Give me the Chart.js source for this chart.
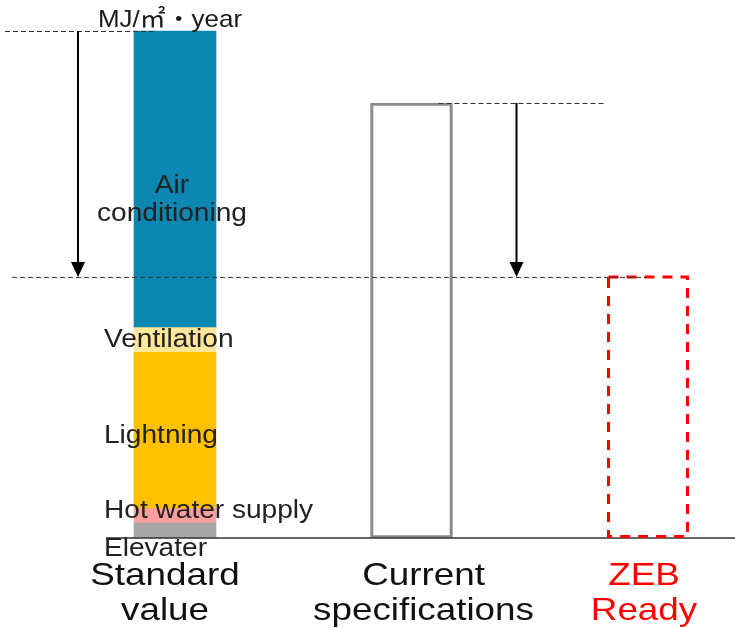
<!DOCTYPE html>
<html><head><meta charset="utf-8">
<script src="https://cdn.jsdelivr.net/npm/chart.js@4"></script>
<style>html,body{margin:0;padding:0;background:#fff}#wrap{width:735px;height:628px}</style>
</head><body><div id="wrap"><canvas id="c"></canvas></div>
<script>
// ---- data (MJ/㎡・year, standard value = 100) ----
const categories = ['Standard value', 'Current specifications', 'ZEB Ready'];
const categoryLines = [['Standard', 'value'], ['Current', 'specifications'], ['ZEB', 'Ready']];
const componentNames = ['Elevater', 'Hot water supply', 'Lightning', 'Ventilation', 'Air conditioning'];
const elevater = [3.0, null, null];
const hotWater = [2.8, null, null];
const lightning = [30.8, null, null];
const ventilation = [4.9, null, null];
const airConditioning = [58.5, null, null];
const currentSpec = [null, 85.8, null];
const zebReady = [null, null, 51.5];
const unitLabel = 'MJ/㎡・year';

// ---- styles ----
const FONT = '"Liberation Sans", "Noto Sans CJK JP", Arial, sans-serif';
const compColors = ['#A6A6A6', '#FF9E9E', '#FFC000', '#FFE699', '#0C87B1'];
const compSeries = [elevater, hotWater, lightning, ventilation, airConditioning];
const compLabelLayout = [
  {align: 'left', lines: ['Elevater'], dy: [26]},
  {align: 'left', lines: ['Hot water supply'], dy: [2]},
  {align: 'left', lines: ['Lightning'], dy: [12]},
  {align: 'left', lines: ['Ventilation'], dy: [6.5]},
  {align: 'center', lines: ['Air', 'conditioning'], dy: [13.5, 41.5]}
];

const datasets = compSeries.map((d, i) => ({
  label: componentNames[i], data: d, backgroundColor: compColors[i],
  borderWidth: 0, barThickness: 82, clip: false, stack: 's'
}));
datasets.push({label: categories[1], data: currentSpec, backgroundColor: 'rgba(0,0,0,0)',
  borderColor: '#8c8c8c', borderWidth: 2.5, borderSkipped: false, barThickness: 82, clip: false, stack: 's'});
datasets.push({label: categories[2], data: zebReady, backgroundColor: 'rgba(0,0,0,0)',
  borderWidth: 0, barThickness: 82, clip: false, stack: 's'});

function dashedLine(ctx, x1, x2, y) {
  ctx.save(); ctx.strokeStyle = '#333'; ctx.lineWidth = 1; ctx.setLineDash([5, 3]);
  ctx.beginPath(); ctx.moveTo(x1, y + 0.5); ctx.lineTo(x2, y + 0.5); ctx.stroke(); ctx.restore();
}
function arrow(ctx, x, y1, y2) {
  ctx.save(); ctx.strokeStyle = '#000'; ctx.fillStyle = '#000'; ctx.lineWidth = 2;
  ctx.beginPath(); ctx.moveTo(x, y1); ctx.lineTo(x, y2 - 12); ctx.stroke();
  ctx.beginPath(); ctx.moveTo(x - 7, y2 - 15); ctx.lineTo(x + 7, y2 - 15); ctx.lineTo(x, y2); ctx.closePath(); ctx.fill();
  ctx.restore();
}
function wideText(ctx, t, x, y, sx) {
  ctx.save(); ctx.translate(x, y); ctx.scale(sx, 1); ctx.fillText(t, 0, 0); ctx.restore();
}

const annot = {
  id: 'annot',
  afterDatasetsDraw(chart) {
    const ctx = chart.ctx, ys = chart.scales.y;
    const P = ['x', 'y', 'base', 'width'];
    const stdEls = compSeries.map((_, i) => chart.getDatasetMeta(i).data[0].getProps(P, true));
    const cur = chart.getDatasetMeta(5).data[1].getProps(P, true);
    const zeb = chart.getDatasetMeta(6).data[2].getProps(P, true);
    const std = stdEls[0];
    const half = std.width / 2;
    const stdTotal = compSeries.reduce((s, d) => s + d[0], 0);
    const y0 = ys.getPixelForValue(0);
    const yStd = ys.getPixelForValue(stdTotal);
    const yCur = ys.getPixelForValue(currentSpec[1]);
    const yZeb = ys.getPixelForValue(zebReady[2]);

    ctx.save(); ctx.strokeStyle = '#333'; ctx.lineWidth = 1.5;
    ctx.beginPath(); ctx.moveTo(std.x - half - 28, y0); ctx.lineTo(chart.width, y0); ctx.stroke(); ctx.restore();

    ctx.save(); ctx.strokeStyle = '#FF0000'; ctx.lineWidth = 3; ctx.setLineDash([10, 8]);
    ctx.strokeRect(zeb.x - half + 1.5, yZeb, zeb.width - 3, y0 - yZeb - 1.5); ctx.restore();

    dashedLine(ctx, 5, std.x - 20, yStd);
    dashedLine(ctx, 12, zeb.x - 2, yZeb);
    dashedLine(ctx, cur.x + half - 14, zeb.x - half - 1, yCur);
    arrow(ctx, std.x - half - 56, yStd, yZeb);
    arrow(ctx, cur.x + half + 64, yCur, yZeb);

    ctx.save(); ctx.fillStyle = '#1a1a1a'; ctx.font = '24px ' + FONT; ctx.textAlign = 'left'; ctx.textBaseline = 'alphabetic';
    wideText(ctx, unitLabel, std.x - half - 36, yStd - 4, 1.08); ctx.restore();

    ctx.save(); ctx.fillStyle = '#222'; ctx.font = '26px ' + FONT; ctx.textBaseline = 'alphabetic';
    stdEls.forEach((el, i) => {
      const L = compLabelLayout[i];
      const mid = (el.y + el.base) / 2;
      ctx.textAlign = L.align;
      const x = L.align === 'center' ? el.x - 3 : el.x - half - 30;
      L.lines.forEach((t, k) => wideText(ctx, t, x, mid + L.dy[k], 1.08));
    });
    ctx.restore();

    const centers = [std.x - 10, cur.x + 12, zeb.x - 4];
    ctx.save(); ctx.font = '32px ' + FONT; ctx.textAlign = 'center'; ctx.textBaseline = 'alphabetic';
    categoryLines.forEach((lines, i) => {
      ctx.fillStyle = i === 2 ? '#FF0000' : '#111';
      lines.forEach((t, k) => wideText(ctx, t, centers[i], y0 + 47 + k * 35, 1.15));
    });
    ctx.restore();
  }
};

new Chart(document.getElementById('c'), {
  type: 'bar',
  data: {labels: categories, datasets},
  options: {
    responsive: true, maintainAspectRatio: false, animation: false,
    layout: {padding: {left: 175, right: 87, top: 31, bottom: 90}},
    plugins: {legend: {display: false}, tooltip: {enabled: false}},
    scales: {
      x: {type: 'category', offset: false, display: false, stacked: true},
      y: {min: 0, max: 100, display: false, stacked: true}
    }
  },
  plugins: [annot]
});
</script>
</body></html>
